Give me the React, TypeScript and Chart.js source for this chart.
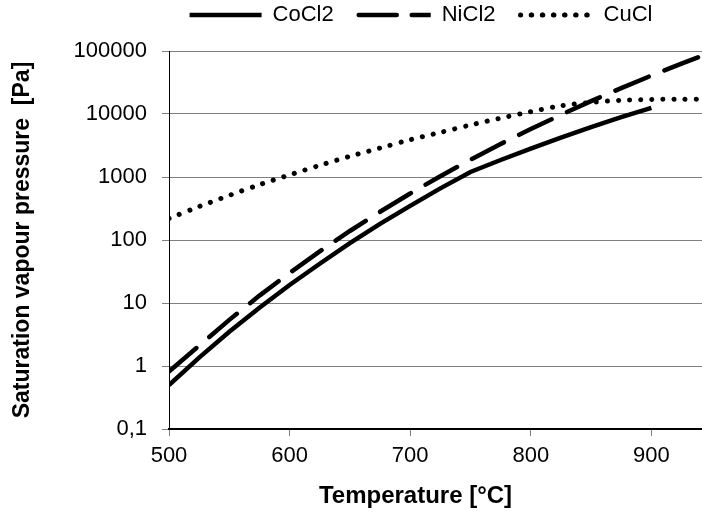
import React, { useEffect, useRef } from 'react';
import { Chart, registerables } from 'chart.js';

Chart.register(...registerables);

const seriesNames = ['CoCl2', 'NiCl2', 'CuCl'];

const tempsCoCl2 = [500, 525, 550, 575, 600, 625, 650, 675, 700, 725, 750, 775, 800, 825, 850, 875, 900];
const pressCoCl2 = [0.5, 1.36, 3.5, 8.4, 19.3, 42, 89, 180, 348, 660, 1200, 1860, 2830, 4200, 6200, 8900, 12500];

const tempsNiCl2 = [500, 525, 550, 575, 600, 625, 650, 675, 700, 725, 750, 775, 800, 825, 850, 875, 900, 925, 943];
const pressNiCl2 = [0.82, 2.1, 5.4, 13.1, 30, 66, 139, 280, 546, 1030, 1880, 3340, 5770, 9700, 16000, 25800, 40700, 63000, 85500];

const tempsCuCl = [500, 525, 550, 575, 600, 625, 650, 675, 700, 725, 750, 775, 800, 825, 850, 875, 900, 925, 943];
const pressCuCl = [220, 340, 510, 755, 1080, 1530, 2130, 2880, 3900, 5100, 6700, 8600, 10900, 13500, 15300, 16500, 17000, 17200, 17200];

const xTicks = [500, 600, 700, 800, 900];
const yTicks = [0.1, 1, 10, 100, 1000, 10000, 100000];

const xTitle = 'Temperature [°C]';
const yTitle = 'Saturation vapour pressure  [Pa]';

const FONT = '"Liberation Sans", Arial, sans-serif';

const toPoints = (xs: number[], ys: number[]) => xs.map((x, i) => ({ x, y: ys[i] }));

// Shifts the legend block and the x-axis title horizontally to where the reference has them.
const placement = {
  id: 'placement',
  afterLayout(chart: any) {
    const lg = chart.legend;
    if (lg) {
      lg.left += 70;
      lg.right += 70;
    }
    const sx = chart.scales && chart.scales.x;
    if (sx && !sx.__titleShifted) {
      const orig = sx.drawTitle.bind(sx);
      sx.drawTitle = function () {
        const ctx = this.ctx;
        ctx.save();
        ctx.translate(-20, 0);
        orig();
        ctx.restore();
      };
      sx.__titleShifted = true;
    }
  },
};

export default function App() {
  const ref = useRef<HTMLCanvasElement>(null);

  useEffect(() => {
    document.body.style.margin = '0';
    const canvas = ref.current;
    if (!canvas) return;
    const chart = new Chart(canvas, {
      type: 'line',
      data: {
        datasets: [
          {
            label: seriesNames[0],
            data: toPoints(tempsCoCl2, pressCoCl2),
            borderColor: '#000',
            backgroundColor: 'rgba(0,0,0,0)',
            borderWidth: 4.5,
            pointRadius: 0,
            tension: 0,
          },
          {
            label: seriesNames[1],
            data: toPoints(tempsNiCl2, pressNiCl2),
            borderColor: '#000',
            backgroundColor: 'rgba(0,0,0,0)',
            borderWidth: 4.5,
            borderDash: [36, 17],
            borderCapStyle: 'round',
            pointRadius: 0,
            tension: 0,
          },
          {
            label: seriesNames[2],
            data: toPoints(tempsCuCl, pressCuCl),
            borderColor: '#000',
            backgroundColor: 'rgba(0,0,0,0)',
            borderWidth: 5,
            borderDash: [0.1, 11],
            borderCapStyle: 'round',
            pointRadius: 0,
            tension: 0.3,
          },
        ],
      },
      options: {
        animation: false,
        responsive: true,
        maintainAspectRatio: false,
        layout: { padding: { top: -21, left: 0, right: 0, bottom: 0 } },
        plugins: {
          legend: {
            display: true,
            position: 'top',
            labels: {
              color: '#000',
              font: { family: FONT, size: 22 },
              boxWidth: 72,
              boxHeight: 0,
              padding: 25,
            },
          },
          title: {
            display: true,
            text: '',
            weight: 500,
            padding: 0,
            font: { size: 15, lineHeight: 1 },
          } as any,
          tooltip: { enabled: false },
        },
        scales: {
          x: {
            type: 'linear',
            min: 500,
            max: 942,
            afterBuildTicks: (scale: any) => {
              scale.ticks = xTicks.map((v) => ({ value: v }));
            },
            afterFit: (scale: any) => {
              scale.height = 85;
            },
            ticks: {
              color: '#000',
              font: { family: FONT, size: 22 },
              padding: 7,
              maxRotation: 0,
              callback: (v: any) => String(v),
            },
            grid: {
              drawOnChartArea: false,
              drawTicks: true,
              tickLength: 7,
              color: '#808080',
              tickColor: '#808080',
            },
            border: { color: '#000', width: 2 },
            title: {
              display: true,
              text: xTitle,
              color: '#000',
              font: { family: FONT, size: 24, weight: 'bold' },
              padding: { top: 13, bottom: 3 },
            },
          },
          y: {
            type: 'logarithmic',
            min: 0.1,
            max: 100000,
            afterBuildTicks: (scale: any) => {
              scale.ticks = yTicks.map((v) => ({ value: v }));
            },
            afterFit: (scale: any) => {
              scale.width = 169;
            },
            ticks: {
              color: '#000',
              font: { family: FONT, size: 22 },
              padding: 15,
              callback: (v: any) => String(v).replace('.', ','),
            },
            grid: {
              color: '#808080',
              tickColor: '#808080',
              tickLength: 7,
              lineWidth: 1,
            },
            border: { color: '#000', width: 1 },
            title: {
              display: true,
              text: yTitle,
              color: '#000',
              font: { family: FONT, size: 23, weight: 'bold' },
              padding: { top: 9, bottom: 40 },
            },
          },
        },
      },
      plugins: [placement],
    });
    return () => chart.destroy();
  }, []);

  return (
    <div style={{ width: 702, height: 514, position: 'relative' }}>
      <canvas ref={ref} />
    </div>
  );
}
